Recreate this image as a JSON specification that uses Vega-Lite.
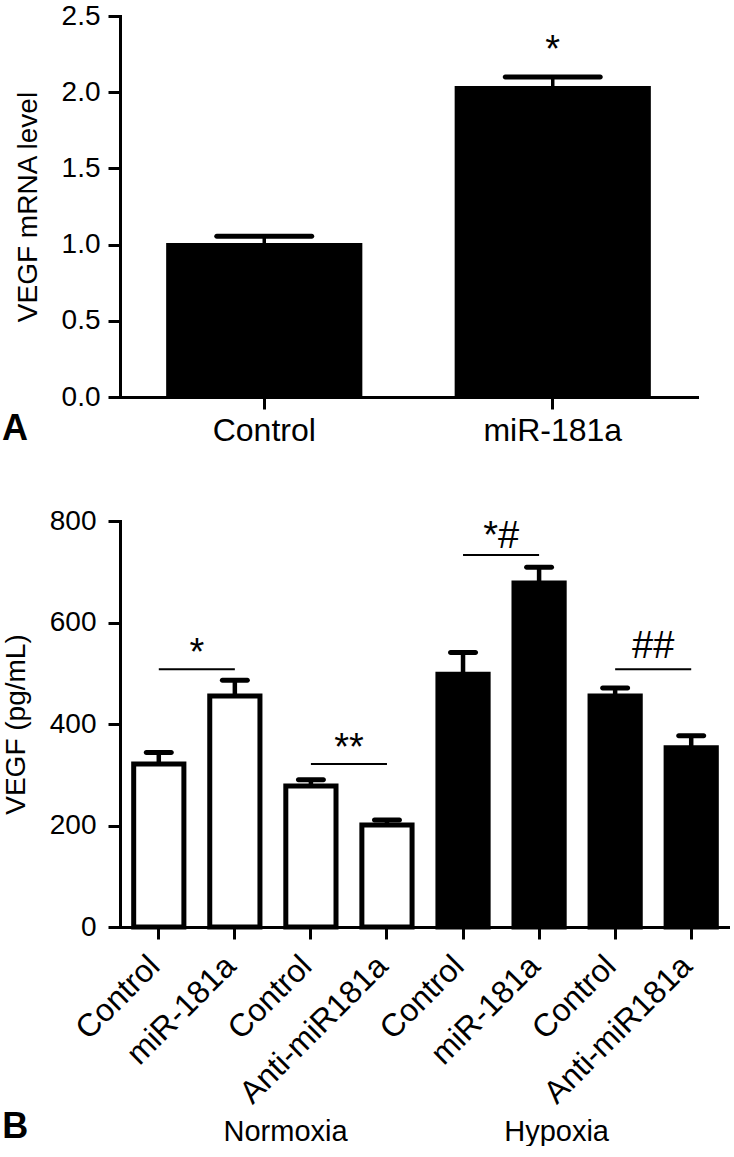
{
  "$schema": "https://vega.github.io/schema/vega-lite/v6.json",
  "padding": {"left": 2, "top": 2, "right": 0, "bottom": 0},
  "background": "white",
  "config": {
    "font": "Liberation Sans",
    "view": {"stroke": null},
    "axis": {
      "domainColor": "black", "domainWidth": 3, "domainCap": "square",
      "tickColor": "black", "tickWidth": 3, "tickSize": 12,
      "labelColor": "black", "titleColor": "black", "grid": false,
      "titleFontWeight": "normal", "labelFont": "Liberation Sans", "titleFont": "Liberation Sans"
    },
    "title": {"color": "black", "font": "Liberation Sans"}
  },
  "spacing": 60,
  "vconcat": [
    {
      "width": 577,
      "height": 381,
      "title": {"text": "A", "orient": "bottom", "anchor": "start", "frame": "bounds", "fontSize": 36, "fontWeight": "bold", "offset": -34, "dx": -12},
      "data": {"values": [
        {"group": "Control", "value": 1.01, "upper": 1.055},
        {"group": "miR-181a", "value": 2.04, "upper": 2.10}
      ]},
      "layer": [
        {
          "mark": {"type": "bar", "color": "black"},
          "encoding": {
            "x": {"field": "group", "type": "nominal", "sort": null,
              "scale": {"paddingInner": 0.32, "paddingOuter": 0.16},
              "axis": {"title": null, "labelAngle": 0, "labelFontSize": 32, "labelPadding": 6}},
            "y": {"field": "value", "type": "quantitative",
              "scale": {"domain": [0, 2.5], "nice": false},
              "axis": {"title": "VEGF mRNA level", "values": [0, 0.5, 1, 1.5, 2, 2.5], "format": ".1f",
                "labelFontSize": 28, "labelPadding": 8, "titleFontSize": 28, "titlePadding": 19}}
          }
        },
        {
          "mark": {"type": "rule", "strokeWidth": 3.5, "color": "black"},
          "encoding": {
            "x": {"field": "group", "type": "nominal", "sort": null},
            "y": {"field": "value", "type": "quantitative"},
            "y2": {"field": "upper"}
          }
        },
        {
          "mark": {"type": "tick", "orient": "horizontal", "size": 100, "thickness": 5, "cornerRadius": 2.5, "color": "black", "opacity": 1},
          "encoding": {
            "x": {"field": "group", "type": "nominal", "sort": null},
            "y": {"field": "upper", "type": "quantitative"}
          }
        },
        {
          "data": {"values": [{"group": "miR-181a", "y": 2.2, "text": "*"}]},
          "mark": {"type": "text", "fontSize": 38, "baseline": "alphabetic", "align": "center", "color": "black"},
          "encoding": {
            "x": {"field": "group", "type": "nominal"},
            "y": {"field": "y", "type": "quantitative"},
            "text": {"field": "text"}
          }
        }
      ]
    },
    {
      "width": 610,
      "height": 406,
      "title": {"text": "B", "orient": "bottom", "anchor": "start", "frame": "bounds", "fontSize": 36, "fontWeight": "bold", "offset": -36},
      "layer": [
        {
          "data": {"values": [
            {"key": "Normoxia|Control|1", "condition": "Normoxia", "value": 321, "upper": 344},
            {"key": "Normoxia|miR-181a|2", "condition": "Normoxia", "value": 455, "upper": 486},
            {"key": "Normoxia|Control|3", "condition": "Normoxia", "value": 278, "upper": 290},
            {"key": "Normoxia|Anti-miR181a|4", "condition": "Normoxia", "value": 201, "upper": 211},
            {"key": "Hypoxia|Control|5", "condition": "Hypoxia", "value": 498, "upper": 541},
            {"key": "Hypoxia|miR-181a|6", "condition": "Hypoxia", "value": 678, "upper": 709},
            {"key": "Hypoxia|Control|7", "condition": "Hypoxia", "value": 455, "upper": 471},
            {"key": "Hypoxia|Anti-miR181a|8", "condition": "Hypoxia", "value": 353, "upper": 377}
          ]},
          "layer": [
            {
              "mark": {"type": "bar", "stroke": "black", "strokeWidth": 5},
              "encoding": {
                "x": {"field": "key", "type": "nominal", "sort": null,
                  "scale": {"domain": ["Normoxia|Control|1", "Normoxia|miR-181a|2", "Normoxia|Control|3", "Normoxia|Anti-miR181a|4", "Hypoxia|Control|5", "Hypoxia|miR-181a|6", "Hypoxia|Control|7", "Hypoxia|Anti-miR181a|8"],
                    "paddingInner": 0.34, "paddingOuter": 0.18},
                  "axis": {"title": null, "labelAngle": -45, "labelFontSize": 32, "labelPadding": 11, "labelOffset": -15,
                    "labelLimit": 400, "labelExpr": "split(datum.value, '|')[1]"}},
                "y": {"field": "value", "type": "quantitative",
                  "scale": {"domain": [0, 800], "nice": false},
                  "axis": {"title": "VEGF (pg/mL)", "values": [0, 200, 400, 600, 800],
                    "labelFontSize": 28, "labelPadding": 12, "titleFontSize": 28, "titlePadding": 19}},
                "fill": {"field": "condition", "type": "nominal",
                  "scale": {"domain": ["Normoxia", "Hypoxia"], "range": ["white", "black"]}, "legend": null}
              }
            },
            {
              "mark": {"type": "rule", "strokeWidth": 4.5, "color": "black"},
              "encoding": {
                "x": {"field": "key", "type": "nominal"},
                "y": {"field": "value", "type": "quantitative"},
                "y2": {"field": "upper"}
              }
            },
            {
              "mark": {"type": "tick", "orient": "horizontal", "size": 30, "thickness": 5, "cornerRadius": 2.5, "color": "black", "opacity": 1},
              "encoding": {
                "x": {"field": "key", "type": "nominal"},
                "y": {"field": "upper", "type": "quantitative"}
              }
            },
            {
              "data": {"values": [
                {"from": "Normoxia|Control|1", "to": "Normoxia|miR-181a|2", "y": 508},
                {"from": "Normoxia|Control|3", "to": "Normoxia|Anti-miR181a|4", "y": 321},
                {"from": "Hypoxia|Control|5", "to": "Hypoxia|miR-181a|6", "y": 733},
                {"from": "Hypoxia|Control|7", "to": "Hypoxia|Anti-miR181a|8", "y": 508}
              ]},
              "mark": {"type": "rule", "strokeWidth": 2, "color": "black"},
              "encoding": {
                "x": {"field": "from", "type": "nominal"},
                "x2": {"field": "to"},
                "y": {"field": "y", "type": "quantitative"}
              }
            },
            {
              "data": {"values": [
                {"from": "Normoxia|Control|1", "y": 517, "text": "*"},
                {"from": "Normoxia|Control|3", "y": 330, "text": "**"},
                {"from": "Hypoxia|Control|5", "y": 747, "text": "*#"},
                {"from": "Hypoxia|Control|7", "y": 530, "text": "##"}
              ]},
              "mark": {"type": "text", "fontSize": 38, "baseline": "alphabetic", "align": "center", "color": "black"},
              "encoding": {
                "x": {"field": "from", "type": "nominal", "bandPosition": 1.258},
                "y": {"field": "y", "type": "quantitative"},
                "text": {"field": "text"}
              }
            }
          ]
        },
        {
          "data": {"values": [{"condition": "Normoxia"}, {"condition": "Hypoxia"}]},
          "mark": {"type": "text", "text": ""},
          "encoding": {
            "x": {"field": "condition", "type": "nominal", "sort": null,
              "scale": {"type": "point", "padding": 0.6255, "align": 0.487},
              "axis": {"orient": "bottom", "offset": 190, "title": null, "domain": false, "ticks": false,
                "labelFontSize": 29, "labelAngle": 0, "labelPadding": 0}}
          }
        }
      ],
      "resolve": {"scale": {"x": "independent"}, "axis": {"x": "independent"}}
    }
  ]
}
